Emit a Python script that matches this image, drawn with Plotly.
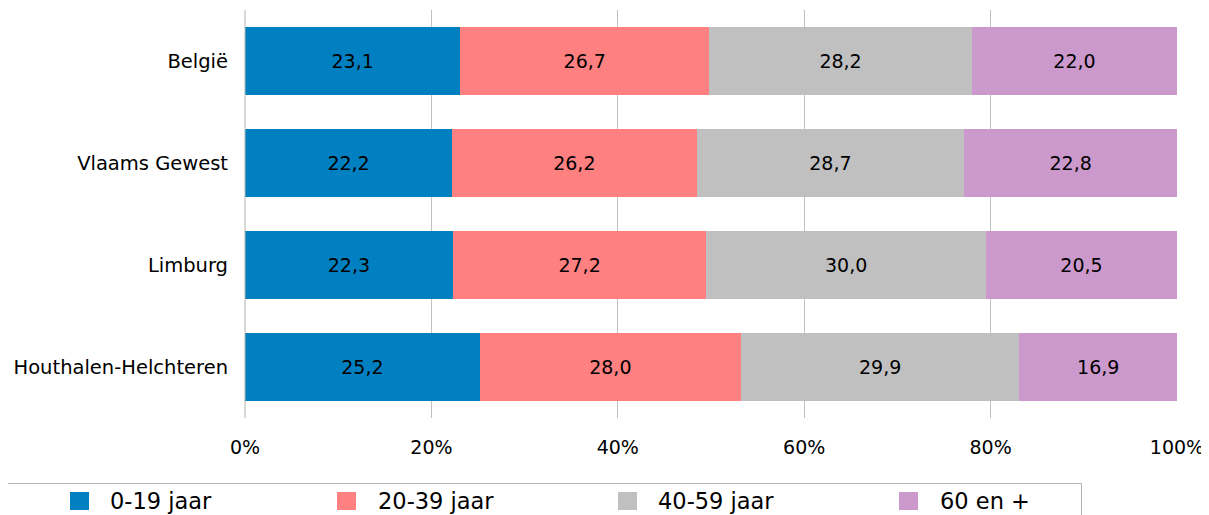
import plotly.graph_objects as go

categories = ["België", "Vlaams Gewest", "Limburg", "Houthalen-Helchteren"]
series_names = ["0-19 jaar", "20-39 jaar", "40-59 jaar", "60 en +"]
v_0_19 = [23.1, 22.2, 22.3, 25.2]
v_20_39 = [26.7, 26.2, 27.2, 28.0]
v_40_59 = [28.2, 28.7, 30.0, 29.9]
v_60plus = [22.0, 22.8, 20.5, 16.9]
colors = ["#0080c0", "#ff8080", "#c0c0c0", "#cc99cc"]
tick_vals = [0, 20, 40, 60, 80, 100]
tick_text = ["0%", "20%", "40%", "60%", "80%", "100%"]

# page body has an 8px margin, so the figure is drawn 8px in from the window edge
OFF = 8
W, H = 1209 - OFF, 515 - OFF
L, R, T, B = 245 - OFF, 1209 - 1177, 10 - OFF, 515 - 418
pw, ph = W - L - R, H - T - B


def px_x(p):  # reference window pixel -> paper x
    return (p - OFF - L) / pw


def px_y(p):  # reference window pixel -> paper y
    return (H - B - (p - OFF)) / ph


FONT = "DejaVu Sans"
fig = go.Figure()
for name, vals, col in zip(series_names, [v_0_19, v_20_39, v_40_59, v_60plus], colors):
    fig.add_trace(go.Bar(
        y=categories, x=vals, name=name, orientation="h",
        marker=dict(color=col, line=dict(width=0)),
        text=[f"{v:.1f}".replace(".", ",") for v in vals],
        textposition="inside", insidetextanchor="middle",
        textfont=dict(family=FONT, size=19, color="black"),
        constraintext="none", showlegend=False,
        hoverinfo="skip",
    ))

# legend drawn as boxes + labels (positions in reference pixels)
leg_sq_left = [70, 337, 618, 899]
leg_txt_left = [109, 377, 657, 939]
shapes = [
    dict(type="rect", xref="paper", yref="paper",
         x0=px_x(7.5), x1=px_x(1081.5), y0=px_y(483.5), y1=px_y(540),
         line=dict(color="#b3b3b3", width=1), fillcolor="rgba(0,0,0,0)"),
    dict(type="line", xref="paper", yref="paper",
         x0=0, x1=0, y0=0, y1=1, line=dict(color="#b3b3b3", width=1)),
]
annotations = []
for name, col, sx, tx in zip(series_names, colors, leg_sq_left, leg_txt_left):
    shapes.append(dict(type="rect", xref="paper", yref="paper",
                       x0=px_x(sx), x1=px_x(sx + 19), y0=px_y(492), y1=px_y(510),
                       line=dict(width=0), fillcolor=col))
    annotations.append(dict(text=name, xref="paper", yref="paper",
                            x=px_x(tx - 1), y=px_y(501), xanchor="left", yanchor="middle",
                            showarrow=False, font=dict(family=FONT, size=22.5, color="black")))

fig.update_layout(
    width=W, height=H,
    margin=dict(l=L, r=R, t=T, b=B, pad=0),
    barmode="stack", barnorm="percent", bargap=0.33,
    plot_bgcolor="white", paper_bgcolor="white",
    font=dict(family=FONT, size=19, color="black"),
    showlegend=False,
    xaxis=dict(range=[0, 100], tickvals=tick_vals, ticktext=tick_text,
               showgrid=True, gridcolor="#c0c0c0", gridwidth=1,
               zeroline=False, showline=False,
               ticks="outside", ticklen=12, tickcolor="rgba(0,0,0,0)",
               tickfont=dict(family=FONT, size=19)),
    yaxis=dict(categoryorder="array", categoryarray=categories, autorange="reversed",
               showgrid=False, zeroline=False, showline=False,
               ticks="", ticklabelstandoff=16,
               tickfont=dict(family=FONT, size=19.5)),
    shapes=shapes,
    annotations=annotations,
)

fig.write_html("out.html")
